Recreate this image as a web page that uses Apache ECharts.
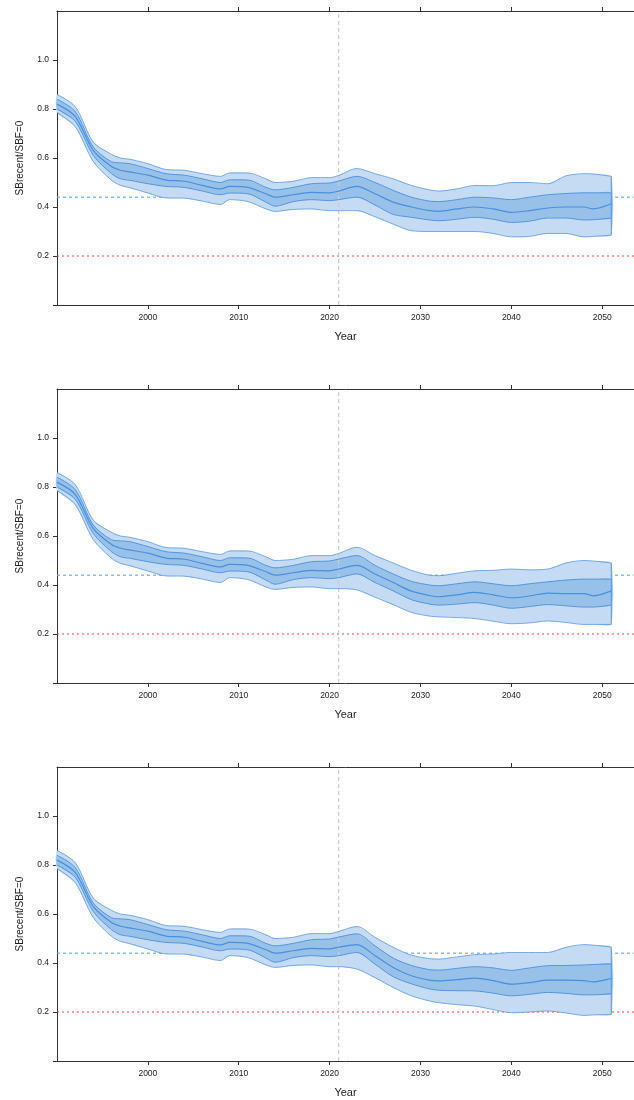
<!DOCTYPE html>
<html><head><meta charset="utf-8">
<script src="https://cdn.jsdelivr.net/npm/echarts@6/dist/echarts.min.js"></script>
<style>html,body{margin:0;padding:0;background:#fff}#c{width:634px;height:1100px}</style>
</head><body><div id="c"></div>
<script>
const histYears=[1990,1992,1994,1996,1997,1998,2000,2002,2004,2006,2008,2009,2011,2013,2014,2016,2018,2020,2021];
const projYears=[2023,2025,2027,2029,2031,2032,2034,2036,2038,2040,2042,2044,2046,2048,2049,2051];
const histU90=[.859,.81,.665,.615,.60,.595,.577,.553,.55,.536,.525,.539,.539,.515,.50,.505,.52,.52,.529];
const histU50=[.84,.79,.645,.585,.58,.577,.557,.536,.53,.515,.50,.511,.51,.48,.47,.48,.495,.498,.506];
const histMed=[.82,.77,.63,.565,.55,.543,.53,.51,.505,.488,.474,.484,.48,.454,.44,.45,.46,.458,.465];
const histL50=[.80,.75,.61,.536,.515,.509,.495,.484,.48,.465,.45,.457,.454,.42,.403,.422,.43,.426,.43];
const histL90=[.786,.728,.585,.509,.488,.479,.457,.437,.436,.424,.41,.43,.422,.392,.382,.39,.392,.385,.385];
const p1U90=[.557,.536,.515,.488,.47,.465,.474,.488,.487,.50,.50,.495,.527,.536,.535,.525];
const p1U50=[.525,.50,.468,.44,.424,.422,.43,.44,.437,.43,.44,.45,.455,.458,.458,.458];
const p1Med=[.484,.454,.42,.40,.385,.382,.392,.40,.392,.378,.385,.396,.40,.40,.392,.413];
const p1L50=[.44,.408,.37,.358,.347,.344,.35,.358,.35,.337,.342,.355,.355,.347,.348,.355];
const p1L90=[.385,.36,.33,.303,.30,.30,.30,.30,.292,.278,.28,.292,.292,.278,.28,.285];
const p2U90=[.554,.52,.49,.46,.44,.438,.448,.458,.46,.465,.462,.465,.49,.50,.498,.49];
const p2U50=[.52,.48,.445,.415,.40,.397,.405,.413,.405,.397,.405,.413,.42,.424,.424,.424];
const p2Med=[.48,.445,.41,.375,.357,.352,.36,.37,.36,.348,.355,.367,.365,.365,.356,.376];
const p2L50=[.445,.41,.376,.34,.322,.318,.322,.328,.318,.305,.312,.32,.315,.31,.31,.318];
const p2L90=[.38,.35,.32,.288,.273,.27,.267,.263,.252,.242,.245,.253,.247,.239,.239,.239];
const p3U90=[.549,.505,.464,.432,.418,.416,.425,.434,.437,.443,.443,.443,.464,.475,.473,.465];
const p3U50=[.519,.47,.42,.39,.373,.371,.378,.385,.38,.37,.38,.389,.39,.392,.394,.396];
const p3Med=[.475,.43,.382,.348,.33,.327,.332,.338,.328,.314,.32,.33,.33,.328,.323,.337];
const p3L50=[.443,.395,.344,.315,.294,.289,.287,.286,.277,.266,.272,.28,.276,.27,.27,.275];
const p3L90=[.375,.34,.30,.266,.245,.238,.23,.224,.21,.197,.2,.204,.196,.186,.188,.19];
const yTicks=[0.2,0.4,0.6,0.8,1.0];
const xTicks=[2000,2010,2020,2030,2040,2050];
const refSB=0.44, limitSB=0.2, lastHistYear=2021;

const panels=[[p1U90,p1U50,p1Med,p1L50,p1L90],[p2U90,p2U50,p2Med,p2L50,p2L90],[p3U90,p3U50,p3Med,p3L50,p3L90]];
const years=histYears.concat(projYears);
const tops=[11,389,767], H=294, XMIN=1990, XMAX=2053.5;
const grid=[],xAxis=[],yAxis=[],series=[];
const SM=0.3, edge='#4a8fdb';
function band(xi,yi,up,lo,color){
  return {type:'custom',xAxisIndex:xi,yAxisIndex:yi,silent:true,data:[[years[0],up[0]]],z:1,
    renderItem:(params,api)=>{
      const top=years.map((y,k)=>api.coord([y,up[k]]));
      const bot=years.map((y,k)=>api.coord([y,lo[k]])).reverse();
      return {type:'polygon',shape:{points:top.concat(bot),smooth:0.2},style:{fill:color}};
    }};
}
panels.forEach((p,i)=>{
  const [U90,U50,Med,L50,L90]=p.map((a,k)=>[histU90,histU50,histMed,histL50,histL90][k].concat(a));
  grid.push({left:57,right:0,top:tops[i],height:H});
  const base={min:XMIN,max:XMAX,interval:10,gridIndex:i,type:'value'};
  xAxis.push(Object.assign({},base,{position:'bottom',name:'Year',nameLocation:'middle',nameGap:26,
    nameTextStyle:{fontSize:11,color:'#222',fontFamily:'Liberation Sans'},
    axisLine:{lineStyle:{color:'#333'}},axisTick:{show:true,length:4,lineStyle:{color:'#333'},customValues:xTicks},
    axisLabel:{fontSize:8.5,color:'#222',fontFamily:'Liberation Sans',customValues:xTicks,formatter:v=>String(v)},splitLine:{show:false}}));
  xAxis.push(Object.assign({},base,{position:'top',axisLine:{lineStyle:{color:'#333'}},
    axisTick:{show:true,length:4,lineStyle:{color:'#333'},customValues:xTicks},axisLabel:{show:false},splitLine:{show:false}}));
  yAxis.push({type:'value',gridIndex:i,min:0,max:1.2,interval:0.2,name:'SBrecent/SBF=0',nameLocation:'middle',nameGap:32,
    nameTextStyle:{fontSize:10,color:'#222',fontFamily:'Liberation Sans'},
    axisLine:{show:true,lineStyle:{color:'#333'}},axisTick:{show:true,length:4,lineStyle:{color:'#333'},customValues:[0].concat(yTicks)},
    axisLabel:{fontSize:8.5,color:'#222',fontFamily:'Liberation Sans',customValues:yTicks,formatter:v=>v.toFixed(1)},splitLine:{show:false}});
  const xi=2*i;
  const pts=a=>years.map((y,k)=>[y,a[k]]);
  const common={type:'line',xAxisIndex:xi,yAxisIndex:i,smooth:SM,symbol:'none',silent:true,z:3};
  const ref=(data,color,type,z)=>({type:'line',xAxisIndex:xi,yAxisIndex:i,symbol:'none',silent:true,z:z,data:data,
    lineStyle:{color:color,type:type,width:1.2}});
  series.push(ref([[lastHistYear,0],[lastHistYear,1.2]],'#cccccc',[4,3],2));
  series.push(ref([[XMIN,refSB],[XMAX,refSB]],'#6aaff2',[3,3],0));
  series.push(ref([[XMIN,limitSB],[XMAX,limitSB]],'#e04848',[2,3],0));
  series.push(band(xi,i,U90,L90,'#c4dbf3'));
  series.push(band(xi,i,U50,L50,'#98c1ea'));
  [U90,U50,Med,L50,L90].forEach((a,k)=>series.push(Object.assign({},common,{data:pts(a),
    lineStyle:{color:edge,width:k===2?1.2:0.9,opacity:k===0||k===4?0.8:1}})));
  series.push(Object.assign({},common,{smooth:false,data:[[2051,U90[U90.length-1]],[2051,L90[L90.length-1]]],lineStyle:{color:edge,width:0.9}}));
});
const chart=echarts.init(document.getElementById('c'),null,{renderer:'canvas'});
chart.setOption({animation:false,grid,xAxis,yAxis,series});
</script></body></html>
